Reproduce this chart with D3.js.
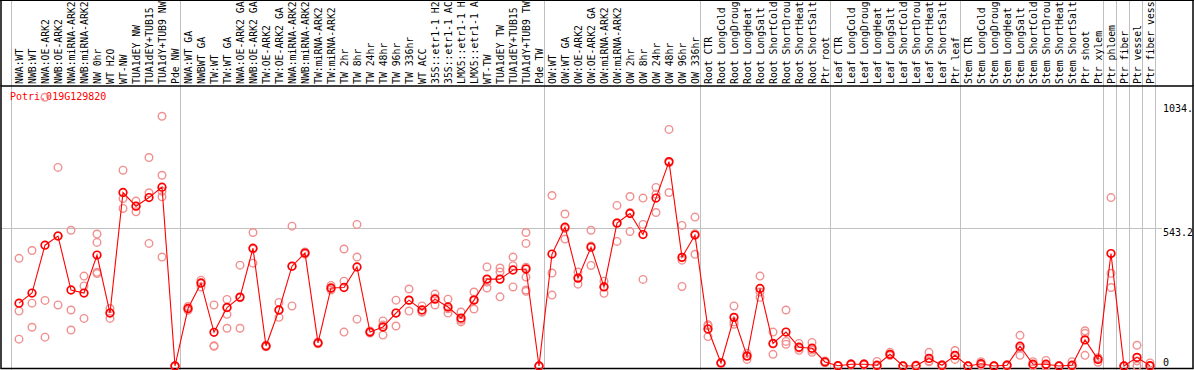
<!DOCTYPE html>
<html>
<head>
<meta charset="utf-8">
<script src="https://cdn.jsdelivr.net/npm/d3@7"></script>
<style>
  body { margin: 0; background: #fff; }
  svg { display: block; font-family: "DejaVu Sans Mono", monospace; font-size: 10px; }
</style>
</head>
<body>
<div id="chart"></div>
<script>
// Expression profile for one gene across sample conditions

const gene = 'Potri.019G129820';

const samples = [
  'NWA:WT', 'NWB:WT', 'NWA:OE-ARK2', 'NWB:OE-ARK2', 'NWA:miRNA-ARK2', 'NWB:miRNA-ARK2',
  'NW 0hr', 'WT H2O', 'WT-NW', 'TUA1dEY NW', 'TUA1dEY+TUB15 NW', 'TUA1dY+TUB9 NW', 'Pde NW',
  'NWA:WT GA', 'NWBWT GA', 'TW:WT', 'TW:WT GA', 'NWA:OE-ARK2 GA', 'NWB:OE-ARK2 GA',
  'TW:OE-ARK2', 'TW:OE-ARK2 GA', 'NWA:miRNA-ARK2 GA', 'NWB:miRNA-ARK2 GA', 'TW:miRNA-ARK2',
  'TW:miRNA-ARK2 GA', 'TW 2hr', 'TW 8hr', 'TW 24hr', 'TW 48hr', 'TW 96hr', 'TW 336hr', 'WT ACC',
  '35S::etr1-1 H2O', '35S::etr1-1 ACC', 'LMX5::etr1-1 H2O', 'LMX5::etr1-1 ACC', 'WT-TW',
  'TUA1dEY TW', 'TUA1dEY+TUB15 TW', 'TUA1dY+TUB9 TW', 'Pde TW',
  'OW:WT', 'OW:WT GA', 'OW:OE-ARK2', 'OW:OE-ARK2 GA', 'OW:miRNA-ARK2', 'OW:miRNA-ARK2 GA',
  'OW 2hr', 'OW 8hr', 'OW 24hr', 'OW 48hr', 'OW 96hr', 'OW 336hr',
  'Root CTR', 'Root LongCold', 'Root LongDrought', 'Root LongHeat', 'Root LongSalt',
  'Root ShortCold', 'Root ShortDrought', 'Root ShortHeat', 'Root ShortSalt', 'Ptr root',
  'Leaf CTR', 'Leaf LongCold', 'Leaf LongDrought', 'Leaf LongHeat', 'Leaf LongSalt',
  'Leaf ShortCold', 'Leaf ShortDrought', 'Leaf ShortHeat', 'Leaf ShortSalt', 'Ptr leaf',
  'Stem CTR', 'Stem LongCold', 'Stem LongDrought', 'Stem LongHeat', 'Stem LongSalt',
  'Stem ShortCold', 'Stem ShortDrought', 'Stem ShortHeat', 'Stem ShortSalt', 'Ptr shoot', 'Ptr xylem',
  'Ptr phloem', 'Ptr fiber', 'Ptr vessel', 'Ptr fiber vessel'
];

const means = [
  248, 288, 477, 513, 300, 288, 438, 209, 685, 631, 665, 706, 0,
  227, 327, 133, 231, 272, 465, 79, 221, 394, 446, 91, 308, 310, 391, 134, 154, 209,
  260, 221, 264, 233, 189, 260, 343, 343, 379, 383, 0,
  442, 548, 347, 469, 312, 564, 602, 519, 663, 807, 429, 517,
  146, 12, 192, 39, 306, 89, 134, 74, 70, 16,
  1, 7, 7, 3, 46, 0, 1, 30, 3, 42,
  0, 9, 0, 3, 78, 7, 7, 0, 3, 103, 26,
  444, 0, 34, 1
];

const replicates = [
  [425, 217, 106], [456, 248, 153], [1061, 259, 114], [784, 514, 241], [536, 221, 142],
  [355, 316, 188], [521, 488, 370, 365], [227, 210, 188], [773, 661, 622], [651, 631, 609],
  [823, 684, 484], [986, 753, 690, 668, 430], [0, 0, 0],
  [235, 225, 220], [339, 330, 312], [241, 80, 78], [263, 231, 204, 149], [398, 269, 149],
  [527, 462, 406], [82, 78, 76], [251, 221, 192], [552, 394, 237], [450, 446, 442],
  [94, 91, 88], [318, 306, 300], [462, 335, 134], [559, 430, 185], [138, 134, 130],
  [178, 162, 122], [260, 209, 158], [304, 260, 217], [237, 213, 213], [284, 268, 241],
  [264, 226, 209], [213, 181, 174], [292, 264, 225], [391, 331, 308], [387, 371, 273],
  [430, 396, 312], [527, 484, 390, 351, 300, 295], [0, 0, 0],
  [673, 367, 280], [600, 543, 501], [371, 347, 323], [536, 474, 397], [335, 314, 287],
  [634, 566, 492], [669, 606, 531], [663, 559, 342], [705, 678, 606], [934, 802, 685],
  [555, 418, 314], [588, 522, 441],
  [163, 159, 116], [14, 12, 10], [237, 174, 165], [50, 40, 26], [355, 292, 271],
  [134, 87, 46], [221, 97, 86], [89, 71, 62], [93, 63, 54], [20, 14, 14],
  [2, 1, 0], [9, 7, 5], [9, 7, 5], [18, 0, 0], [54, 46, 41], [0, 0, 0], [4, 0, 0],
  [54, 20, 17], [5, 3, 1], [61, 40, 26],
  [0, 0, 0], [17, 6, 4], [0, 0, 0], [5, 3, 1], [121, 71, 42], [17, 4, 2], [22, 0, 0],
  [0, 0, 0], [17, 0, 0], [139, 129, 42], [33, 30, 15],
  [665, 366, 310], [0, 0, 0], [82, 20, 0], [12, 0, 0]
];

// index of the first sample of each group (last entry closes the final group)
const groupStarts = [0, 13, 41, 53, 63, 73, 84, 85, 86, 87, 88];

const yMax = 1034.4;
const yTicks = [0, 543.2, 1034.4];
const yTickLabels = ['0', '543.2', '1034.'];

const width = 1194;
const height = 370;
const headerBottom = 86;
const maxLabelChars = 14; // header only has room for this many characters

const svg = d3.select('#chart').append('svg')
  .attr('width', width)
  .attr('height', height);

// Scales
const x = d3.scaleBand()
  .domain(d3.range(samples.length))
  .range([11, 11 + 13 * samples.length]);

const cx = i => x(i) + 8;
const edge = i => (i < samples.length ? x(i) : x.range()[1]);

const y = d3.scaleLinear()
  .domain([0, yMax])
  .range([366, 104]);

// Group separators
svg.append('g')
  .selectAll('line')
  .data(groupStarts)
  .enter()
  .append('line')
  .attr('x1', d => edge(d) + 0.5)
  .attr('x2', d => edge(d) + 0.5)
  .attr('y1', 0)
  .attr('y2', height)
  .attr('stroke', '#c0c0c0')
  .attr('stroke-width', 1);

// Mid grid line
svg.append('line')
  .attr('x1', 1)
  .attr('x2', 1162)
  .attr('y1', Math.round(y(yTicks[1])) + 0.5)
  .attr('y2', Math.round(y(yTicks[1])) + 0.5)
  .attr('stroke', '#c0c0c0');

// Frame
svg.append('rect')
  .attr('x', 1)
  .attr('y', headerBottom)
  .attr('width', width - 2)
  .attr('height', height - headerBottom - 1.5)
  .attr('fill', 'none')
  .attr('stroke', '#000')
  .attr('stroke-width', 1.5);

svg.append('line')
  .attr('x1', 0).attr('x2', width)
  .attr('y1', 0.5).attr('y2', 0.5)
  .attr('stroke', '#000');

svg.append('line')
  .attr('x1', 1).attr('x2', 1)
  .attr('y1', 0).attr('y2', headerBottom)
  .attr('stroke', '#000')
  .attr('stroke-width', 1.5);

svg.append('line')
  .attr('x1', width - 1).attr('x2', width - 1)
  .attr('y1', 0).attr('y2', headerBottom)
  .attr('stroke', '#000')
  .attr('stroke-width', 1.5);

// Sample labels, cut to the header height like the original
svg.append('g')
  .selectAll('text')
  .data(samples)
  .enter()
  .append('text')
  .attr('transform', (d, i) => `translate(${cx(i) + 3.5},84) rotate(-90)`)
  .style('font-size', '9.8px')
  .attr('fill', '#000')
  .text(d => d.slice(0, maxLabelChars).trimEnd());

// Value labels on the right
svg.append('g')
  .selectAll('text')
  .data(yTicks)
  .enter()
  .append('text')
  .attr('x', 1163)
  .attr('y', d => Math.min(y(d) + 7.5, 366))
  .attr('fill', '#000')
  .text((d, i) => yTickLabels[i]);

// Gene title
svg.append('text')
  .attr('x', 10)
  .attr('y', 100)
  .attr('fill', '#ff0000')
  .text(gene);

const plot = svg.append('g');

// Replicates
const repPoints = [];
replicates.forEach((vals, i) => vals.forEach(v => repPoints.push({ i, v })));

plot.selectAll('.rep')
  .data(repPoints)
  .enter()
  .append('circle')
  .attr('class', 'rep')
  .attr('cx', d => cx(d.i))
  .attr('cy', d => y(d.v))
  .attr('r', 3.8)
  .attr('fill', 'none')
  .attr('stroke', '#f09090')
  .attr('stroke-width', 1.4);

// Mean line
const line = d3.line()
  .x((d, i) => cx(i))
  .y(d => y(d));

plot.append('path')
  .datum(means)
  .attr('fill', 'none')
  .attr('stroke', '#ff0000')
  .attr('stroke-width', 1.1)
  .attr('d', line);

plot.selectAll('.mean')
  .data(means)
  .enter()
  .append('circle')
  .attr('class', 'mean')
  .attr('cx', (d, i) => cx(i))
  .attr('cy', d => y(d))
  .attr('r', 3.8)
  .attr('fill', 'none')
  .attr('stroke', '#ff0000')
  .attr('stroke-width', 1.7);
</script>
</body>
</html>
